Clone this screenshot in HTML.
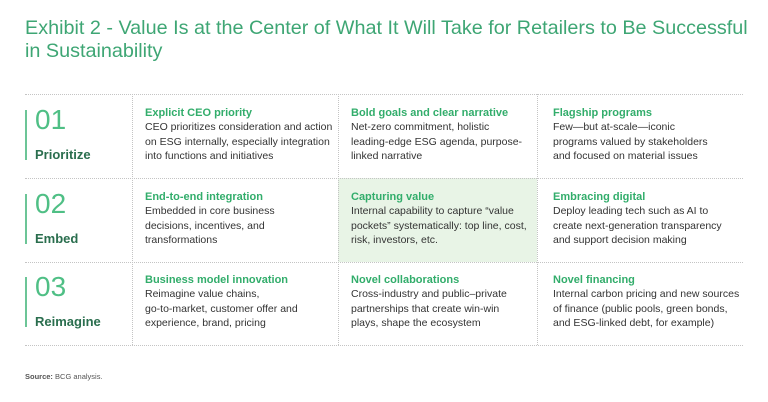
<!DOCTYPE html>
<html><head><style>
body{margin:0;width:768px;height:402px;background:#fff;font-family:"Liberation Sans",sans-serif;position:relative;overflow:hidden}
.t{position:absolute;left:25px;top:17px;font-size:19.8px;line-height:23px;color:#3ea674;white-space:nowrap}
.h{position:absolute;border-top:1px dotted #c4c4c4;left:25px;width:718px;height:0}
.v{position:absolute;border-left:1px dotted #c4c4c4;width:0}
.c{position:absolute;font-size:10.5px;line-height:14.3px;color:#333;white-space:nowrap}
.c b{display:block;color:#32ad6b;font-size:11px}
.n{position:absolute;left:35px;font-size:28px;color:#4fbf85;font-weight:300}
.l{position:absolute;left:35px;font-size:13px;font-weight:bold;color:#2a6e4e}
.bar{position:absolute;left:25px;width:2px;height:50px;background:#6cc597}
.src{position:absolute;left:25px;top:372px;font-size:7.5px;color:#555}
</style></head><body>
<div class="t">Exhibit 2 - Value Is at the Center of What It Will Take for Retailers to Be Successful<br>in Sustainability</div>
<div style="position:absolute;left:338px;top:178px;width:199px;height:84px;background:#e8f4e6"></div>
<div class="h" style="top:94px"></div><div class="h" style="top:178px"></div><div class="h" style="top:262px"></div><div class="h" style="top:345px"></div>
<div class="v" style="left:132px;top:94px;height:251px"></div>
<div class="v" style="left:338px;top:94px;height:251px"></div>
<div class="v" style="left:537px;top:94px;height:251px"></div>
<div class="bar" style="top:110px"></div><div class="bar" style="top:194px"></div><div class="bar" style="top:277px"></div>
<div class="n" style="top:104px">01</div><div class="l" style="top:147px">Prioritize</div>
<div class="n" style="top:188px">02</div><div class="l" style="top:231px">Embed</div>
<div class="n" style="top:271px">03</div><div class="l" style="top:314px">Reimagine</div>
<div class="c" style="left:145px;top:106px"><b>Explicit CEO priority</b>CEO prioritizes consideration and action<br>on ESG internally, especially integration<br>into functions and initiatives</div>
<div class="c" style="left:351px;top:106px"><b>Bold goals and clear narrative</b>Net-zero commitment, holistic<br>leading-edge ESG agenda, purpose-<br>linked narrative</div>
<div class="c" style="left:553px;top:106px"><b>Flagship programs</b>Few—but at-scale—iconic<br>programs valued by stakeholders<br>and focused on material issues</div>
<div class="c" style="left:145px;top:190px"><b>End-to-end integration</b>Embedded in core business<br>decisions, incentives, and<br>transformations</div>
<div class="c" style="left:351px;top:190px"><b>Capturing value</b>Internal capability to capture “value<br>pockets” systematically: top line, cost,<br>risk, investors, etc.</div>
<div class="c" style="left:553px;top:190px"><b>Embracing digital</b>Deploy leading tech such as AI to<br>create next-generation transparency<br>and support decision making</div>
<div class="c" style="left:145px;top:273px"><b>Business model innovation</b>Reimagine value chains,<br>go-to-market, customer offer and<br>experience, brand, pricing</div>
<div class="c" style="left:351px;top:273px"><b>Novel collaborations</b>Cross-industry and public–private<br>partnerships that create win-win<br>plays, shape the ecosystem</div>
<div class="c" style="left:553px;top:273px"><b>Novel financing</b>Internal carbon pricing and new sources<br>of finance (public pools, green bonds,<br>and ESG-linked debt, for example)</div>
<div class="src"><b>Source:</b> BCG analysis.</div>
</body></html>
